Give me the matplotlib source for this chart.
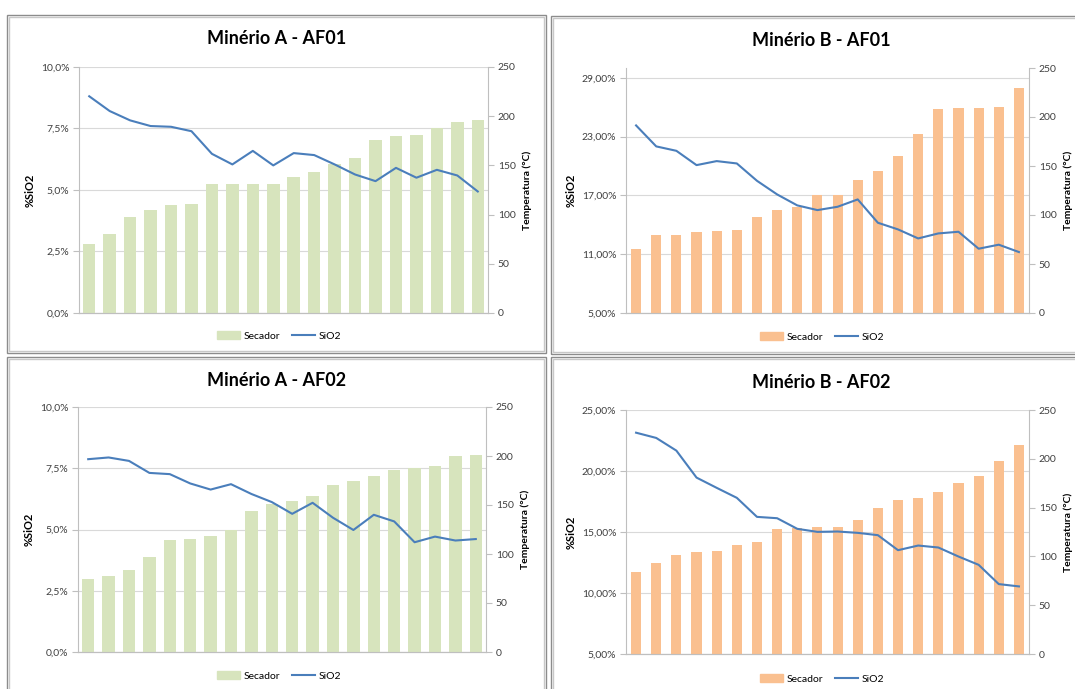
import numpy as np
import matplotlib
matplotlib.use('Agg')
import matplotlib.pyplot as plt
from matplotlib.patches import Rectangle
from matplotlib.lines import Line2D
from matplotlib.ticker import FuncFormatter

plt.rcParams['font.family'] = ['Lato', 'DejaVu Sans']

# temperatura do secador (°C) e teor de SiO2 (%) por amostra
temp_a1 = [70, 80, 98, 105, 110, 111, 131, 131, 131, 131, 138, 143, 151, 158, 176, 180, 181, 188, 194, 196]
sio2_a1 = [8.81, 8.21, 7.83, 7.60, 7.57, 7.39, 6.47, 6.04, 6.59, 6.00, 6.50, 6.42, 6.04, 5.63, 5.36, 5.90, 5.50, 5.82, 5.59, 4.94]

temp_b1 = [65, 80, 80, 83, 84, 85, 98, 105, 108, 120, 120, 136, 145, 160, 183, 208, 209, 209, 210, 230]
sio2_b1 = [24.14, 22.0, 21.55, 20.09, 20.5, 20.26, 18.49, 17.1, 15.98, 15.5, 15.84, 16.59, 14.21, 13.53, 12.61, 13.12, 13.29, 11.56, 11.97, 11.22]

temp_a2 = [75, 78, 84, 97, 114, 115, 118, 124, 144, 151, 154, 159, 170, 174, 180, 186, 188, 190, 200, 201]
sio2_a2 = [7.87, 7.94, 7.80, 7.31, 7.26, 6.88, 6.63, 6.85, 6.45, 6.12, 5.64, 6.09, 5.48, 4.98, 5.60, 5.33, 4.48, 4.71, 4.55, 4.61]

temp_b2 = [84, 93, 101, 104, 106, 112, 115, 128, 129, 130, 130, 137, 150, 158, 160, 166, 175, 182, 198, 214]
sio2_b2 = [23.14, 22.71, 21.67, 19.46, 18.62, 17.8, 16.24, 16.13, 15.26, 15.01, 15.04, 14.93, 14.74, 13.51, 13.89, 13.73, 12.99, 12.31, 10.73, 10.54]

ticks_a = [0, 2.5, 5, 7.5, 10]
ticks_b1 = [5, 11, 17, 23, 29]
ticks_b2 = [5, 10, 15, 20, 25]

verde = '#d7e4bd'
laranja = '#fac090'
azul = '#4a7ebb'
cinza = '#bfbfbf'

W, H = 1075, 689
fig = plt.figure(figsize=(W / 100, H / 100), dpi=100)


def caixa(l, t, r, b):
    return [l / W, (H - b) / H, (r - l) / W, (b - t) / H]


# moldura dupla de cada grafico
def moldura(l, t, r, b):
    for d, c in [(0, '#8c8c8c'), (2, '#c8c8c8')]:
        fig.patches.append(Rectangle(((l + d) / W, (H - b + d) / H), (r - l - 2 * d) / W, (b - t - 2 * d) / H,
                                     transform=fig.transFigure, fill=False, ec=c, lw=1))


def grafico(pos, titulo, tpos, lpos, temp, sio2, ylim, yticks, casas, cor, larg):
    ax = fig.add_axes(caixa(*pos))
    axb = ax.twinx()
    axl = ax.twinx()
    x = np.arange(len(temp))

    # eixo principal: %SiO2 com linhas de grade
    ax.set_xlim(-0.5, len(temp) - 0.5)
    ax.set_ylim(*ylim)
    ax.set_yticks(yticks)
    ax.yaxis.set_major_formatter(FuncFormatter(lambda v, p: f'{v:.{casas}f}%'.replace('.', ',')))
    ax.grid(axis='y', color='#d9d9d9', lw=0.8)
    ax.set_axisbelow(True)
    ax.set_xticks([])
    ax.set_ylabel('%SiO2', fontsize=8, fontweight='bold', labelpad=3.5)

    # barras do secador no eixo secundario
    axb.bar(x, temp, width=larg, color=cor, zorder=2)
    axb.set_ylim(0, 250)
    axb.set_yticks(range(0, 251, 50))
    axb.set_ylabel('Temperatura (°C)', fontsize=7.5, fontweight='bold', labelpad=5)

    # linha de SiO2 por cima das barras
    axl.plot(x, sio2, color=azul, lw=1.5)
    axl.set_ylim(*ylim)
    axl.axis('off')

    for a in (ax, axb):
        a.spines['top'].set_visible(False)
        a.tick_params(axis='y', length=4, color=cinza, labelsize=7.5, labelcolor='#404040', pad=3)
        for s in a.spines.values():
            s.set_color(cinza)
    ax.spines['right'].set_visible(False)
    axb.spines['left'].set_visible(False)

    fig.text(tpos[0] / W, 1 - tpos[1] / H, titulo, ha='center', va='center', fontsize=13, fontweight='bold')

    handles = [Rectangle((0, 0), 1, 1, color=cor), Line2D([], [], color=azul, lw=1.5)]
    fig.legend(handles, ['Secador', 'SiO2'], loc='center', bbox_to_anchor=(lpos[0] / W, 1 - lpos[1] / H),
               ncol=2, frameon=False, fontsize=7.5, handlelength=2.2, handleheight=0.7,
               columnspacing=1.2, handletextpad=0.3)


moldura(7, 15, 546, 353)
moldura(551, 16, 1085, 354)
moldura(7, 357, 546, 700)
moldura(551, 357, 1085, 700)

grafico((79, 67, 488, 313), 'Minério A - AF01', (277, 39), (279, 336), temp_a1, sio2_a1,
        (0, 10), ticks_a, 1, verde, 0.61)
grafico((626, 68, 1029, 313), 'Minério B - AF01', (821, 41), (822, 337), temp_b1, sio2_b1,
        (5, 30), ticks_b1, 2, laranja, 0.5)
grafico((78, 407, 486, 652), 'Minério A - AF02', (277, 381), (279, 676), temp_a2, sio2_a2,
        (0, 10), ticks_a, 1, verde, 0.61)
grafico((626, 410, 1029, 654), 'Minério B - AF02', (821, 382), (822, 679), temp_b2, sio2_b2,
        (5, 25), ticks_b2, 2, laranja, 0.5)

fig.savefig('out.png', dpi=100)
